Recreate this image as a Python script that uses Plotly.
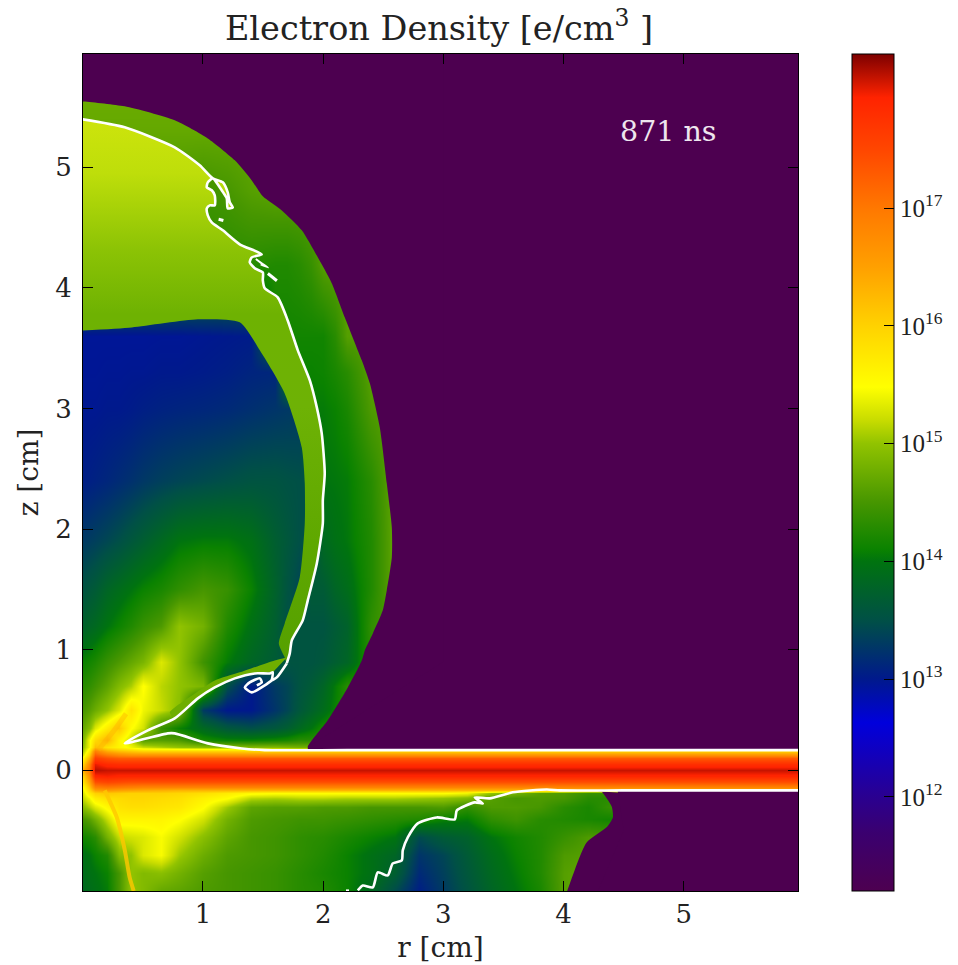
import plotly.graph_objects as go

# log10 electron density, r [cm] columns, z [cm] rows
r_cm = [0, .05, .1, .2, .3, .4, .5, .65, .8, 1, 1.2, 1.4, 1.6, 1.7, 1.8, 1.9, 2, 2.1, 2.2, 2.4, 2.6, 2.8, 3, 3.2, 3.4, 3.6, 3.8, 4, 4.2, 4.4, 6]
z_cm = [-1.0, -.85, -.7, -.55, -.4, -.3, -.23, -.19, -.165, -.14, -.1, -.05, 0, .05, .1, .13, .16, .19, .25, .35, .5, .7, .9, 1.2, 1.5, 1.9, 2.4, 3.0, 3.3, 3.6, 4.2, 4.8, 5.3, 5.95]
log_ne = [
 [13.85,13.9,13.95,14.05,14.5,15.0,14.9,14.7,14.65,14.55,14.5,14.45,14.4,14.35,14.3,14.28,14.25,14.18,14.1,13.85,13.45,13.05,13.3,13.55,13.8,14.0,14.2,14.6,14.7,14.7,14.7],
 [13.9,13.95,14.0,14.1,14.5,15.0,14.9,14.95,14.8,14.6,14.5,14.45,14.4,14.35,14.3,14.25,14.2,14.15,14.1,13.95,13.7,13.15,13.35,13.6,13.85,14.05,14.25,14.6,14.7,14.7,14.7],
 [13.95,14.0,14.1,14.25,14.9,15.0,15.3,15.45,15.05,14.75,14.55,14.5,14.45,14.4,14.35,14.3,14.25,14.18,14.1,13.95,13.8,13.25,13.4,13.65,13.9,14.1,14.25,14.55,14.6,14.6,14.6],
 [14.15,14.2,14.3,14.8,15.2,15.25,15.3,15.45,15.25,14.95,14.65,14.5,14.45,14.4,14.35,14.32,14.3,14.25,14.2,14.1,14.0,13.45,13.65,13.75,14.0,14.15,14.25,14.4,14.55,14.5,14.5],
 [14.5,14.6,14.8,15.2,15.6,15.6,15.6,15.6,15.5,15.25,14.8,14.55,14.5,14.48,14.45,14.45,14.45,14.42,14.4,14.35,14.3,14.25,14.1,14.05,14.35,14.45,14.3,14.25,14.2,14.15,14.4],
 [14.95,15.1,15.3,15.55,15.8,15.85,15.85,15.8,15.75,15.5,15.05,14.65,14.6,14.6,14.6,14.58,14.55,14.55,14.55,14.5,14.5,14.5,14.55,14.35,14.55,14.55,14.5,14.3,14.2,14.4,14.5],
 [15.2,15.4,15.7,15.85,15.9,15.95,15.95,15.9,15.85,15.65,15.5,15.15,15.1,15.12,15.15,15.15,15.15,15.12,15.1,15.1,15.1,15.05,15.0,14.9,14.6,14.5,14.55,14.5,14.3,14.3,14.3],
 [15.3,15.7,16.0,16.1,16.05,16.0,16.0,16.0,15.95,15.85,15.7,15.55,15.5,15.5,15.5,15.5,15.5,15.5,15.5,15.5,15.5,15.5,15.5,15.4,15.0,14.8,14.6,14.55,14.4,14.4,14.4],
 [15.4,15.9,16.5,16.6,16.5,16.45,16.4,16.35,16.3,16.3,16.3,16.3,16.3,16.3,16.3,16.3,16.3,16.3,16.3,16.3,16.3,16.3,16.3,16.3,16.3,16.3,16.3,16.3,16.3,16.3,16.3],
 [15.5,16.1,16.9,17.0,16.95,16.9,16.85,16.85,16.85,16.85,16.85,16.85,16.85,16.85,16.85,16.85,16.85,16.85,16.85,16.85,16.85,16.85,16.85,16.85,16.85,16.85,16.85,16.85,16.85,16.85,16.85],
 [15.8,16.4,17.4,17.5,17.45,17.4,17.4,17.4,17.4,17.4,17.4,17.4,17.4,17.4,17.4,17.4,17.4,17.4,17.4,17.4,17.4,17.4,17.4,17.4,17.4,17.4,17.4,17.4,17.4,17.4,17.4],
 [16.0,16.7,17.9,17.95,17.9,17.9,17.9,17.9,17.9,17.9,17.9,17.9,17.9,17.9,17.9,17.9,17.9,17.9,17.9,17.9,17.9,17.9,17.9,17.9,17.9,17.9,17.9,17.9,17.9,17.9,17.9],
 [16.4,17.0,18.15,18.1,18.1,18.1,18.1,18.1,18.1,18.1,18.1,18.1,18.1,18.1,18.1,18.1,18.1,18.1,18.1,18.1,18.1,18.1,18.1,18.1,18.1,18.1,18.1,18.1,18.1,18.1,18.1],
 [16.0,16.8,18.0,17.85,17.8,17.8,17.8,17.8,17.8,17.8,17.8,17.8,17.8,17.8,17.8,17.8,17.8,17.8,17.8,17.8,17.8,17.8,17.8,17.8,17.8,17.8,17.8,17.8,17.8,17.8,17.8],
 [15.6,16.3,17.6,17.4,17.3,17.3,17.3,17.3,17.3,17.3,17.3,17.3,17.3,17.3,17.3,17.3,17.3,17.3,17.3,17.3,17.3,17.3,17.3,17.3,17.3,17.3,17.3,17.3,17.3,17.3,17.3],
 [15.3,16.0,17.3,17.0,16.8,16.7,16.7,16.7,16.7,16.7,16.7,16.7,16.7,16.7,16.7,16.7,16.7,16.7,16.7,16.7,16.7,16.7,16.7,16.7,16.7,16.7,16.7,16.7,16.7,16.7,16.7],
 [15.1,15.7,16.9,16.4,16.2,16.1,16.0,16.0,16.0,16.0,16.0,16.0,16.0,16.0,16.0,16.0,16.0,16.0,16.0,16.0,16.0,16.0,16.0,16.0,16.0,16.0,16.0,16.0,16.0,16.0,16.0],
 [15.0,15.4,16.2,15.8,15.6,15.4,15.2,15.1,15.0,14.95,14.95,14.9,14.9,14.85,14.8,14.8,14.8,14.8,14.8,14.8,14.8,14.8,14.8,14.8,14.8,14.8,14.8,14.8,14.8,14.8,14.8],
 [14.9,15.4,15.9,16.3,15.6,15.2,14.6,14.6,14.55,14.2,14.1,14.1,14.15,14.2,14.3,14.3,14.3,14.3,14.3,14.3,14.3,14.3,14.3,14.3,14.3,14.3,14.3,14.3,14.3,14.3,14.3],
 [14.7,14.9,15.3,15.7,16.1,15.5,15.25,14.4,14.1,13.85,13.6,13.5,13.6,13.7,13.85,14.0,14.2,14.3,14.3,14.3,14.3,14.3,14.3,14.3,14.3,14.3,14.3,14.3,14.3,14.3,14.3],
 [14.5,14.6,14.75,15.0,15.3,15.8,15.4,15.2,14.95,13.3,13.0,13.0,13.25,13.4,13.6,13.75,13.9,14.1,14.3,14.3,14.3,14.3,14.3,14.3,14.3,14.3,14.3,14.3,14.3,14.3,14.3],
 [14.3,14.35,14.45,14.65,14.9,15.1,15.5,15.15,15.0,14.85,13.5,13.0,13.3,13.4,13.55,13.65,13.8,14.05,14.3,14.3,14.3,14.3,14.3,14.3,14.3,14.3,14.3,14.3,14.3,14.3,14.3],
 [14.1,14.15,14.22,14.4,14.55,14.7,14.85,15.3,15.0,14.45,14.05,13.8,13.65,13.55,13.55,13.55,13.6,13.7,13.8,14.3,14.5,14.5,14.5,14.5,14.5,14.5,14.5,14.5,14.5,14.5,14.5],
 [13.75,13.8,13.85,14.0,14.12,14.25,14.4,14.55,15.0,14.8,14.25,13.95,13.7,13.5,13.55,13.55,13.55,13.65,13.75,14.35,14.6,14.6,14.6,14.6,14.6,14.6,14.6,14.6,14.6,14.6,14.6],
 [13.55,13.6,13.65,13.8,13.9,14.0,14.1,14.2,14.35,14.5,14.4,14.1,13.75,13.55,13.4,13.65,13.65,13.8,13.9,14.25,14.7,14.7,14.7,14.7,14.7,14.7,14.7,14.7,14.7,14.7,14.7],
 [13.3,13.32,13.35,13.42,13.5,13.6,13.7,13.85,14.0,14.05,14.05,13.95,13.7,13.6,13.5,13.5,13.85,13.95,14.02,14.25,14.7,14.7,14.7,14.7,14.7,14.7,14.7,14.7,14.7,14.7,14.7],
 [13.05,13.06,13.08,13.12,13.17,13.22,13.28,13.35,13.4,13.45,13.5,13.55,13.55,13.52,13.5,13.5,14.0,14.02,14.05,14.3,14.7,14.7,14.7,14.7,14.7,14.7,14.7,14.7,14.7,14.7,14.7],
 [12.98,12.98,12.98,13.0,13.0,13.02,13.05,13.08,13.1,13.12,13.15,13.2,13.25,13.28,13.3,14.05,14.05,14.1,14.2,14.55,14.65,14.65,14.65,14.65,14.65,14.65,14.65,14.65,14.65,14.65,14.65],
 [12.96,12.96,12.96,12.97,12.97,12.98,12.98,13.0,13.0,13.02,13.05,13.1,13.12,14.1,14.1,14.1,14.12,14.2,14.3,14.62,14.6,14.6,14.6,14.6,14.6,14.6,14.6,14.6,14.6,14.6,14.6],
 [12.95,12.95,12.95,12.95,12.95,12.95,12.95,12.96,12.96,12.98,13.0,13.02,14.15,14.15,14.15,14.15,14.15,14.3,14.6,14.6,14.6,14.6,14.6,14.6,14.6,14.6,14.6,14.6,14.6,14.6,14.6],
 [14.4,14.4,14.4,14.4,14.4,14.4,14.4,14.4,14.35,14.3,14.3,14.3,14.25,14.25,14.3,14.4,14.6,14.65,14.65,14.65,14.65,14.65,14.65,14.65,14.65,14.65,14.65,14.65,14.65,14.65,14.65],
 [14.5,14.5,14.5,14.5,14.5,14.5,14.5,14.5,14.5,14.45,14.5,14.6,14.65,14.65,14.65,14.65,14.65,14.65,14.65,14.65,14.65,14.65,14.65,14.65,14.65,14.65,14.65,14.65,14.65,14.65,14.65],
 [14.7,14.7,14.7,14.7,14.7,14.7,14.7,14.7,14.7,14.7,14.7,14.7,14.7,14.7,14.7,14.7,14.7,14.7,14.7,14.7,14.7,14.7,14.7,14.7,14.7,14.7,14.7,14.7,14.7,14.7,14.7],
 [14.8,14.8,14.8,14.8,14.8,14.8,14.8,14.8,14.8,14.8,14.8,14.8,14.8,14.8,14.8,14.8,14.8,14.8,14.8,14.8,14.8,14.8,14.8,14.8,14.8,14.8,14.8,14.8,14.8,14.8,14.8],
]

scale_levels = [11.2, 11.7, 12.0, 12.63, 13.0, 13.5, 14.0, 14.1, 14.5, 15.0, 15.2, 15.48, 16.0, 16.5, 17.0, 17.5, 17.94, 18.31]
scale_colors = ["#4d0050", "#3a0070", "#2a0090", "#0000dc", "#00198c", "#005046", "#00730f", "#0a8200", "#469600", "#91c300", "#c8dc00", "#ffff00", "#ffd200", "#ffa000", "#ff7800", "#ff4600", "#ff2300", "#7d0000"]
colorbar_ticks = [12, 13, 14, 15, 16, 17]
colorbar_labels = ["10<sup>12</sup>", "10<sup>13</sup>", "10<sup>14</sup>", "10<sup>15</sup>", "10<sup>16</sup>", "10<sup>17</sup>"]

# outer boundary of the shell, top of axis down to the beam
shock_r = [-.5, 0, .349, .765, 1.04, 1.265, 1.406, 1.498, 1.656, 1.822, 1.955, 2.072, 2.18, 2.321, 2.388, 2.471, 2.529, 2.571, 2.571, 2.529, 2.496, 2.413, 2.346, 2.321, 2.205, 2.038, 1.872]
shock_z = [5.56, 5.547, 5.506, 5.39, 5.24, 5.058, 4.892, 4.76, 4.643, 4.478, 4.254, 4.038, 3.756, 3.40, 3.209, 2.844, 2.38, 2.015, 1.766, 1.493, 1.327, 1.136, .995, .912, .688, .415, .191]
# outer boundary below the beam
low_shock_r = [4.28, 4.318, 4.40, 4.41, 4.36, 4.19, 4.03, 3.95]
low_shock_z = [-.172, -.18, -.30, -.39, -.47, -.6, -1.0, -1.2]
# white contour, upper lobe
front_r = [0, .349, .765, .973, 1.082, 1.165, 1.206, 1.223, 1.248, 1.206, 1.198, 1.156, 1.082, 1.04, 1.032, 1.073, 1.098, 1.098, 1.057, 1.032, 1.04, 1.073, 1.165, 1.306, 1.489, 1.406, 1.389, 1.431, 1.498, 1.498, 1.514, 1.622, 1.705, 1.789, 1.889, 1.947, 1.988, 2.013, 1.997, 1.997, 1.947, 1.872, 1.83, 1.739, 1.722, 1.697]
front_z = [5.398, 5.332, 5.166, 5.017, 4.909, 4.876, 4.793, 4.71, 4.668, 4.66, 4.743, 4.81, 4.909, 4.876, 4.834, 4.81, 4.768, 4.685, 4.685, 4.66, 4.602, 4.544, 4.478, 4.362, 4.279, 4.254, 4.212, 4.163, 4.129, 4.063, 3.997, 3.922, 3.731, 3.483, 3.234, 3.01, 2.794, 2.463, 2.239, 2.048, 1.716, 1.41, 1.244, 1.078, .97, .887]
spiral_r = [1.697, 1.614, 1.572, 1.514, 1.406, 1.348, 1.389, 1.473, 1.489, 1.448]
spiral_z = [.887, .771, .746, .705, .647, .688, .73, .763, .73, .705]
# white contour, wedge above the beam
wedge_r = [1.572, 1.581, 1.556, 1.431, 1.265, 1.098, .957, .765, .541, .349, .707, .765, 1.04, 1.323, 1.514, 2.2, 5.95]
wedge_z = [.746, .813, .804, .804, .763, .688, .597, .431, .332, .224, .307, .307, .224, .182, .168, .168, .168]
# white contour, lower side of the beam
under_r = [2.288, 2.33, 2.413, 2.454, 2.537, 2.579, 2.654, 2.662, 2.704, 2.787, 2.945, 3.095, 3.112, 3.261, 3.328, 3.261, 3.386, 3.577, 3.86, 3.968, 4.5, 5.95]
under_z = [-.995, -.954, -.97, -.846, -.871, -.771, -.746, -.663, -.556, -.439, -.39, -.406, -.332, -.265, -.274, -.224, -.232, -.182, -.158, -.166, -.166, -.166]
# small white curls
curl_a_r = [1.44, 1.48, 1.54, 1.48]
curl_a_z = [4.24, 4.21, 4.17, 4.195]
curl_b_r = [1.54, 1.615]
curl_b_z = [4.12, 4.06]
curl_c_r = [1.13, 1.17]
curl_c_z = [4.57, 4.56]
speck_r = [2.19, 2.215]
speck_z = [-.995, -.995]
# inner edge of the light green band, bottom to top
cavity_r = [1.68, 1.631, 1.68, 1.805, 1.847, 1.847, 1.822, 1.68, 1.473, 1.306, .957, .408, 0]
cavity_z = [.937, 1.053, 1.219, 1.6, 2.048, 2.38, 2.678, 3.126, 3.483, 3.715, 3.74, 3.673, 3.648]
band_levels = [0, .22, .47, .64, .76, .9, 1]
band_colors = ["#55a000", "#5fa800", "#6eb205", "#6eb202", "#8cc305", "#bede0a", "#cde40c"]
# thin bright sliver above the wedge contour
sliver_r = [1.697, 1.597, 1.306, 1.098, .932, .724, .765, .957, 1.098, 1.265, 1.431, 1.581]
sliver_z = [.937, .912, .813, .746, .638, .481, .431, .597, .688, .763, .804, .813]
# orange ridge curving down below the beam, bright ray above the beam
ridge_r = [.183, .283, .35, .39, .424]
ridge_z = [-.166, -.39, -.663, -.887, -1.0]
ray_low_r = [.13, .26, .36]
ray_low_z = [.17, .33, .47]

r_range = [0.002, 5.95]
z_range = [-1.0, 5.94]
PURPLE = "#4d0050"
SERIF = "DejaVu Serif"
INK = "#222222"
W, H = 958, 965

span = scale_levels[-1] - scale_levels[0]
colorscale = [[(v - scale_levels[0]) / span, c] for v, c in zip(scale_levels, scale_colors)]

fig = go.Figure()
fig.add_trace(go.Heatmap(
    x=r_cm, y=z_cm, z=log_ne, zsmooth="best", zmin=scale_levels[0], zmax=scale_levels[-1],
    colorscale=colorscale, hoverinfo="skip",
    colorbar=dict(x=852 / W, xanchor="left", xpad=0, y=(965 - 472.5) / H, yanchor="middle", ypad=0, len=837 / H, lenmode="fraction",
                  thickness=42, thicknessmode="pixels", outlinewidth=1, outlinecolor="black",
                  tickmode="array", tickvals=colorbar_ticks, ticktext=colorbar_labels, ticks="inside", ticklen=10,
                  tickcolor="black", tickwidth=1, tickfont=dict(family="Liberation Serif", size=25, color=INK)),
))

def poly(x, y, shape="spline", **kw):
    fig.add_trace(go.Scatter(x=x, y=y, mode="lines", line=dict(width=0, shape=shape, smoothing=.6, simplify=False),
                             fill="toself", hoverinfo="skip", showlegend=False, **kw))

def line(x, y, w=2.6, color="white", opacity=1.0):
    fig.add_trace(go.Scatter(x=x, y=y, mode="lines", opacity=opacity,
                             line=dict(color=color, width=w, simplify=False, shape="spline", smoothing=.6),
                             hoverinfo="skip", showlegend=False))

line(ridge_r, ridge_z, 4, "#ffc800", .8)
line(ray_low_r, ray_low_z, 5, "#ffb000", .4)
poly(front_r + cavity_r, front_z + cavity_z,
     fillgradient=dict(type="vertical", start=.9, stop=5.4, colorscale=[[a, b] for a, b in zip(band_levels, band_colors)]))
poly(sliver_r, sliver_z, fillcolor="#6eae00")
poly(shock_r + [3.2, 3.2, -.5], shock_z + [.9, 7, 7], fillcolor=PURPLE)
poly([1.872, 7, 7, 3, 3, 1.872], [.168, .168, 7, 7, .9, .191], shape="linear", fillcolor=PURPLE)
poly(low_shock_r + [4.7, 4.7], low_shock_z + [-1.2, -.2], fillcolor=PURPLE)
poly([4.45, 7, 7, 4.2, 4.5, 4.45], [-.17, -.17, -1.2, -1.2, -.5, -.17], shape="linear", fillcolor=PURPLE)
line(front_r, front_z)
line(spiral_r, spiral_z)
line(wedge_r, wedge_z)
line(under_r, under_z)
line(curl_a_r, curl_a_z, 2)
line(curl_b_r, curl_b_z, 3)
line(curl_c_r, curl_c_z, 3)
line(speck_r, speck_z, 2)

axis = dict(showgrid=False, zeroline=False, showline=True, linecolor="black", linewidth=1, mirror="ticks", automargin=False,
            ticks="inside", ticklen=10, tickcolor="black", tickfont=dict(family=SERIF, size=26, color=INK), tickmode="array")
fig.update_layout(
    width=W, height=H, margin=dict(l=0, r=0, t=0, b=0), autosize=False,
    paper_bgcolor="white", plot_bgcolor=PURPLE, showlegend=False,
    title=dict(text="Electron Density [e/cm<sup>3</sup> ]", x=439 / W, xanchor="center", y=1 - 28 / H, yanchor="middle",
               font=dict(family=SERIF, size=33.5, color=INK)),
    xaxis=dict(axis, domain=[83 / W, 798 / W], range=r_range, tickvals=[1, 2, 3, 4, 5], ticklabelstandoff=0,
               title=dict(text="r [cm]", font=dict(family=SERIF, size=28, color=INK), standoff=9)),
    yaxis=dict(axis, domain=[(H - 891) / H, (H - 54) / H], range=z_range, tickvals=[0, 1, 2, 3, 4, 5], ticklabelstandoff=5,
               title=dict(text="z [cm]", font=dict(family=SERIF, size=28, color=INK), standoff=8)),
    annotations=[dict(text="871 ns", x=4.87, y=5.3, xref="x", yref="y", showarrow=False,
                      font=dict(family=SERIF, size=28.5, color="#eee6ee"))],
)
fig.write_html("out.html", post_script="document.body.style.margin='0';", config=dict(displayModeBar=False))
